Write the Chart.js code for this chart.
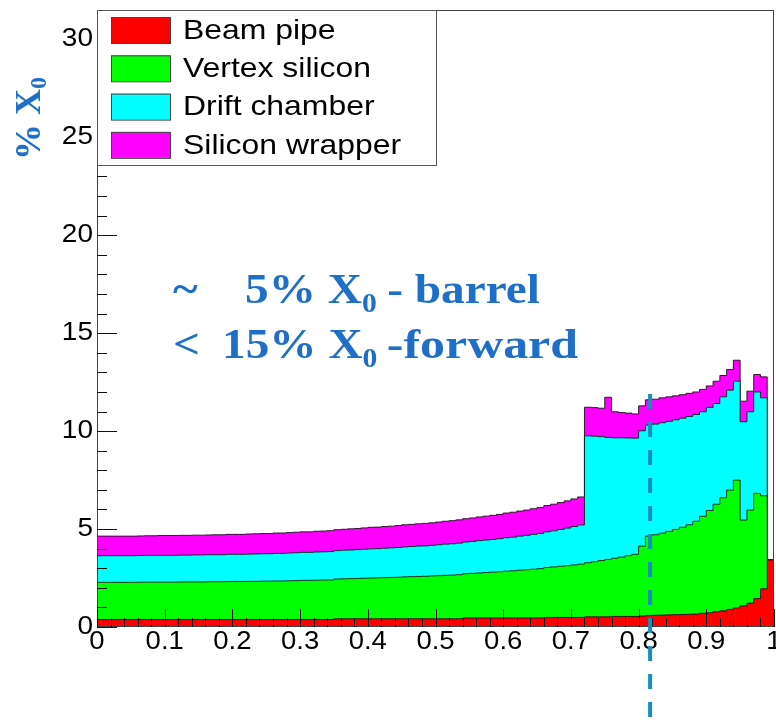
<!DOCTYPE html>
<html>
<head>
<meta charset="utf-8">
<script src="https://cdn.jsdelivr.net/npm/chart.js@4"></script>
<style>
  body { margin: 0; background: #fff; }
  #wrap { width: 776px; height: 725px; }
</style>
</head>
<body>
<div id="wrap"><canvas id="Chart" width="776" height="725"></canvas></div>
<script>
// 100 bins of |cos theta| from 0 to 1, lower edges
const binLow = Array.from({ length: 100 }, (_, i) => i / 100);

// material per bin, % X0
const beamPipe = [
  0.38, 0.38, 0.38, 0.38, 0.38, 0.38, 0.38, 0.38, 0.38, 0.38,
  0.38, 0.38, 0.38, 0.38, 0.38, 0.38, 0.38, 0.38, 0.38, 0.38,
  0.38, 0.38, 0.38, 0.38, 0.38, 0.38, 0.38, 0.38, 0.38, 0.38,
  0.38, 0.38, 0.38, 0.38, 0.38, 0.42, 0.42, 0.42, 0.42, 0.42,
  0.42, 0.42, 0.42, 0.42, 0.42, 0.42, 0.42, 0.42, 0.42, 0.42,
  0.42, 0.42, 0.42, 0.42, 0.46, 0.46, 0.46, 0.46, 0.46, 0.46,
  0.46, 0.46, 0.46, 0.46, 0.46, 0.46, 0.49, 0.49, 0.49, 0.49,
  0.49, 0.49, 0.52, 0.52, 0.52, 0.52, 0.54, 0.54, 0.54, 0.54,
  0.56, 0.58, 0.60, 0.61, 0.62, 0.63, 0.64, 0.65, 0.66, 0.70,
  0.73, 0.78, 0.83, 0.90, 0.98, 1.08, 1.22, 1.45, 1.95, 3.42
];
const vertexSilicon = [
  1.90, 1.90, 1.90, 1.90, 1.90, 1.90, 1.91, 1.91, 1.91, 1.91,
  1.91, 1.91, 1.92, 1.92, 1.92, 1.92, 1.93, 1.93, 1.93, 1.94,
  1.94, 1.94, 1.95, 1.95, 1.96, 1.96, 1.97, 1.97, 1.98, 1.99,
  2.00, 2.00, 2.01, 2.02, 2.02, 2.03, 2.04, 2.05, 2.06, 2.07,
  2.08, 2.09, 2.10, 2.11, 2.12, 2.14, 2.15, 2.16, 2.17, 2.19,
  2.20, 2.22, 2.23, 2.25, 2.26, 2.28, 2.30, 2.32, 2.34, 2.36,
  2.39, 2.41, 2.44, 2.46, 2.49, 2.52, 2.55, 2.58, 2.61, 2.64,
  2.68, 2.72, 2.76, 2.81, 2.87, 2.93, 2.97, 3.03, 3.10, 3.17,
  3.57, 4.06, 4.11, 4.18, 4.26, 4.35, 4.45, 4.57, 4.74, 4.95,
  5.22, 5.49, 5.77, 6.09, 6.52, 4.38, 4.75, 5.37, 4.75, 0
];
const driftChamber = [
  1.36, 1.36, 1.36, 1.36, 1.36, 1.36, 1.36, 1.37, 1.37, 1.37,
  1.37, 1.37, 1.37, 1.37, 1.38, 1.38, 1.38, 1.38, 1.38, 1.39,
  1.39, 1.39, 1.39, 1.40, 1.40, 1.40, 1.41, 1.41, 1.42, 1.42,
  1.43, 1.43, 1.44, 1.44, 1.45, 1.45, 1.46, 1.46, 1.47, 1.48,
  1.49, 1.49, 1.50, 1.51, 1.52, 1.53, 1.54, 1.55, 1.55, 1.56,
  1.58, 1.59, 1.60, 1.61, 1.62, 1.63, 1.65, 1.66, 1.67, 1.69,
  1.71, 1.72, 1.74, 1.76, 1.78, 1.80, 1.82, 1.84, 1.88, 1.92,
  1.96, 2.00, 6.48, 6.41, 6.33, 6.23, 6.15, 6.09, 6.01, 5.93,
  5.89, 5.67, 5.65, 5.64, 5.62, 5.60, 5.57, 5.53, 5.45, 5.34,
  5.26, 5.14, 5.15, 5.10, 5.05, 5.02, 5.02, 5.18, 5.00, 0
];
const siliconWrapper = [
  1.00, 1.00, 1.00, 1.00, 1.00, 1.00, 1.00, 1.00, 1.00, 1.01,
  1.01, 1.01, 1.01, 1.01, 1.01, 1.01, 1.01, 1.02, 1.02, 1.02,
  1.02, 1.02, 1.03, 1.03, 1.03, 1.03, 1.04, 1.04, 1.04, 1.05,
  1.05, 1.05, 1.06, 1.06, 1.07, 1.07, 1.07, 1.08, 1.08, 1.09,
  1.10, 1.10, 1.11, 1.11, 1.12, 1.13, 1.13, 1.14, 1.15, 1.15,
  1.16, 1.17, 1.18, 1.19, 1.19, 1.20, 1.21, 1.22, 1.23, 1.24,
  1.26, 1.27, 1.28, 1.29, 1.31, 1.32, 1.34, 1.36, 1.37, 1.39,
  1.41, 1.43, 1.46, 1.46, 1.45, 2.05, 1.33, 1.29, 1.27, 1.24,
  1.27, 1.29, 1.27, 1.27, 1.25, 1.22, 1.20, 1.18, 1.15, 1.14,
  1.10, 1.14, 1.09, 1.06, 1.07, 1.05, 1.05, 0.89, 1.07, 0
];

const xTickLabels = ["0", "0.1", "0.2", "0.3", "0.4", "0.5", "0.6", "0.7", "0.8", "0.9", "1"];
const yTickLabels = ["0", "5", "10", "15", "20", "25", "30"];

const blue = "#1f6fc8";
const ctx = document.querySelector("#Chart").getContext("2d");
let chart;

// one histogram as a stepped line, last edge repeats the last bin
const makeSeries = (label, values, color, fill) => ({
  label: label,
  data: binLow.map((x, i) => ({ x: x, y: values[i] })).concat([{ x: 1, y: values[values.length - 1] }]),
  backgroundColor: color,
  borderColor: "rgba(0,0,0,0.8)",
  borderWidth: 1,
  stepped: "before",
  pointRadius: 0,
  fill: fill
});

// draw a string widened along x by sx
const putText = (c, str, x, y, font, color, sx, align, base) => {
  c.save();
  c.font = font;
  c.fillStyle = color;
  c.textAlign = align || "left";
  c.textBaseline = base || "alphabetic";
  c.translate(x, y);
  c.scale(sx, 1);
  c.fillText(str, 0, 0);
  const w = c.measureText(str).width * sx;
  c.restore();
  return w;
};

const decorations = {
  id: "decorations",
  afterDatasetsDraw(ch) {
    const c = ch.ctx;
    const a = ch.chartArea;
    const xs = ch.scales.x;
    const ys = ch.scales.y;

    // frame
    c.save();
    c.strokeStyle = "#444";
    c.lineWidth = 1;
    c.strokeRect(a.left + 0.5, a.top + 0.5, a.right - a.left - 1, a.bottom - a.top - 1);

    // inward ticks
    c.strokeStyle = "#111";
    c.beginPath();
    for (let i = 0; i <= 50; i++) {
      const px = Math.round(xs.getPixelForValue(i / 50)) + 0.5;
      const len = i % 5 === 0 ? 18 : 9;
      c.moveTo(px, a.bottom);
      c.lineTo(px, a.bottom - len);
    }
    for (let v = 0; v <= 31; v++) {
      const py = Math.round(ys.getPixelForValue(v)) + 0.5;
      const len = v % 5 === 0 ? 20 : 10;
      c.moveTo(a.left, py);
      c.lineTo(a.left + len, py);
    }
    c.stroke();
    c.restore();

    // tick labels
    const tickFont = "25px 'Liberation Sans', Arial, sans-serif";
    xTickLabels.forEach((t, i) => {
      putText(c, t, xs.getPixelForValue(i / 10), a.bottom + 3, tickFont, "#000", 1.1, "center", "top");
    });
    yTickLabels.forEach((t, i) => {
      putText(c, t, a.left - 4, ys.getPixelForValue(i * 5), tickFont, "#000", 1.12, "right", "middle");
    });

    // legend
    const lx = a.left, ly = a.top, lw = 339, lh = 155;
    c.save();
    c.fillStyle = "#fff";
    c.fillRect(lx, ly, lw, lh);
    c.strokeStyle = "#555";
    c.strokeRect(lx + 0.5, ly + 0.5, lw, lh);
    ch.data.datasets.forEach((ds, i) => {
      const ry = ly + 7 + i * 38.3;
      c.fillStyle = ds.backgroundColor;
      c.fillRect(lx + 14, ry, 59, 26);
      c.strokeStyle = "#444";
      c.strokeRect(lx + 14.5, ry + 0.5, 59, 26);
      putText(c, ds.label, lx + 86, ry + 14, "28px 'Liberation Sans', Arial, sans-serif", "#000", 1.14, "left", "middle");
    });
    c.restore();

    // axis title, rotated
    c.save();
    c.translate(40, 160);
    c.rotate(-Math.PI / 2);
    c.font = "bold 36px 'Liberation Serif', 'Times New Roman', serif";
    c.fillStyle = blue;
    c.fillText("% X", 0, 0);
    const tw = c.measureText("% X").width;
    c.font = "bold 24px 'Liberation Serif', 'Times New Roman', serif";
    c.fillText("0", tw, 6);
    c.restore();

    // barrel / forward notes
    const bigFont = "bold 43px 'Liberation Serif', 'Times New Roman', serif";
    const subFont = "bold 27px 'Liberation Serif', 'Times New Roman', serif";
    const sx = 1.1;
    putText(c, "~", 173, 303, bigFont, blue, sx);
    let w = putText(c, "5% X", 245, 303, bigFont, blue, sx);
    putText(c, "0", 245 + w, 312, subFont, blue, sx);
    putText(c, "- barrel", 540, 303, bigFont, blue, sx, "right");
    putText(c, "<", 173, 358, bigFont, blue, sx);
    w = putText(c, "15% X", 222, 358, bigFont, blue, sx);
    putText(c, "0", 222 + w, 367, subFont, blue, sx);
    putText(c, "-forward", 578, 358, bigFont, blue, 1.16, "right");

    // dashed marker
    const mx = xs.getPixelForValue(0.817);
    c.save();
    c.strokeStyle = "#1a8dbf";
    c.lineWidth = 4;
    c.setLineDash([15, 13]);
    c.beginPath();
    c.moveTo(mx, ys.getPixelForValue(11.9));
    c.lineTo(mx, ch.height);
    c.stroke();
    c.restore();
  }
};

chart = new Chart(ctx, {
  type: "line",
  data: {
    datasets: [
      makeSeries("Beam pipe", beamPipe, "#ff0000", "origin"),
      makeSeries("Vertex silicon", vertexSilicon, "#00ff00", "-1"),
      makeSeries("Drift chamber", driftChamber, "#00ffff", "-1"),
      makeSeries("Silicon wrapper", siliconWrapper, "#ff00ff", "-1")
    ]
  },
  options: {
    responsive: false,
    animation: false,
    layout: { padding: { left: 97, right: 2, top: 10, bottom: 98 } },
    scales: {
      x: { type: "linear", min: 0, max: 1, display: false },
      y: { stacked: true, min: 0, max: 31.5, display: false }
    },
    plugins: {
      legend: { display: false },
      tooltip: { enabled: false }
    }
  },
  plugins: [decorations]
});
</script>
</body>
</html>
